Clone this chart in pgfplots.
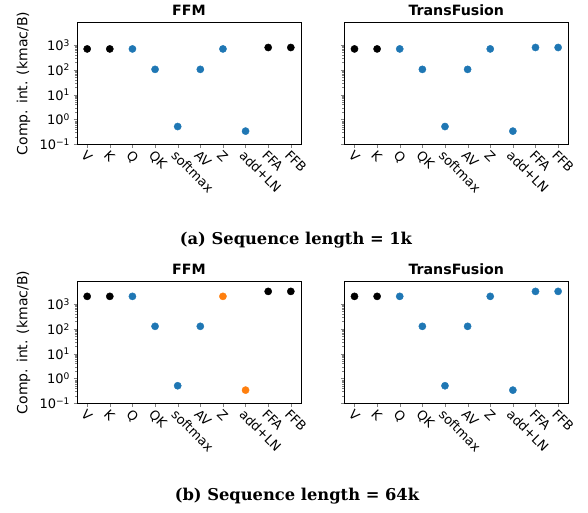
\documentclass[border=0pt]{standalone}
\usepackage{fontspec}
\setsansfont{DejaVu Sans}
\renewcommand\familydefault{\sfdefault}
\newfontfamily\capfont{DejaVu Serif}
\usepackage{pgfplots}
\pgfplotsset{compat=1.18}
\definecolor{tabblue}{RGB}{31,119,180}
\definecolor{taborange}{RGB}{255,127,14}
\newcommand\tickfont{\fontsize{13}{13}\selectfont}
\newcommand\labelfont{\fontsize{14}{14}\selectfont}
\newcommand\titlefont{\fontsize{14.2}{14.2}\selectfont\bfseries}
\newcommand\capsize{\capfont\bfseries\fontsize{16.3}{16.3}\selectfont}

\begin{document}
\begin{tikzpicture}
\useasboundingbox (0pt,0pt) rectangle (588pt,513pt);

% (a) 1k, FFM
\begin{axis}[ymode=log, scale only axis, width=224pt, height=121.6pt,
    at={(77pt,368.7pt)}, anchor=south west,
    xmin=-0.45, xmax=9.45, ymin=0.1, ymax=8000,
    xtick={0,...,9}, xticklabels={V,K,Q,QK,softmax,AV,Z,add+LN,FFA,FFB},
    xticklabel style={rotate=-45, anchor=north west, inner sep=1pt, font=\tickfont},
    ytick={0.1,1,10,100,1000},
    yticklabels={10\textsuperscript{−1},10\textsuperscript{0},10\textsuperscript{1},10\textsuperscript{2},10\textsuperscript{3}},
    yticklabel style={font=\tickfont},
    xtick pos=bottom, ytick pos=left, tick align=outside,
    major tick length=3.5pt, minor tick length=2pt,
    title={FFM}, title style={at={(0.5,1)}, anchor=base, yshift=1pt, font=\titlefont},
    ylabel={Comp. int. (kmac/B)},
    ylabel style={at={(axis description cs:-0.239,0.5)}, anchor=center, font=\labelfont},
]
\addplot[only marks, mark=*, mark size=3.6pt, black] coordinates {(0,700)(1,700)(8,800)(9,800)};
\addplot[only marks, mark=*, mark size=3.6pt, tabblue] coordinates {(2,700)(3,105)(4,0.52)(5,105)(6,700)(7,0.34)};
\end{axis}

% (a) 1k, TransFusion
\begin{axis}[ymode=log, scale only axis, width=224pt, height=121.6pt,
    at={(344.3pt,368.7pt)}, anchor=south west,
    xmin=-0.45, xmax=9.45, ymin=0.1, ymax=8000,
    xtick={0,...,9}, xticklabels={V,K,Q,QK,softmax,AV,Z,add+LN,FFA,FFB},
    xticklabel style={rotate=-45, anchor=north west, inner sep=1pt, font=\tickfont},
    ytick={0.1,1,10,100,1000}, yticklabels={},
    xtick pos=bottom, ytick pos=left, tick align=outside,
    major tick length=3.5pt, minor tick length=2pt,
    title={TransFusion}, title style={at={(0.5,1)}, anchor=base, yshift=1pt, font=\titlefont},
]
\addplot[only marks, mark=*, mark size=3.6pt, black] coordinates {(0,700)(1,700)};
\addplot[only marks, mark=*, mark size=3.6pt, tabblue] coordinates {(2,700)(3,105)(4,0.52)(5,105)(6,700)(7,0.34)(8,800)(9,800)};
\end{axis}

% (b) 64k, FFM
\begin{axis}[ymode=log, scale only axis, width=224pt, height=121.6pt,
    at={(77pt,109.7pt)}, anchor=south west,
    xmin=-0.45, xmax=9.45, ymin=0.1, ymax=8000,
    xtick={0,...,9}, xticklabels={V,K,Q,QK,softmax,AV,Z,add+LN,FFA,FFB},
    xticklabel style={rotate=-45, anchor=north west, inner sep=1pt, font=\tickfont},
    ytick={0.1,1,10,100,1000},
    yticklabels={10\textsuperscript{−1},10\textsuperscript{0},10\textsuperscript{1},10\textsuperscript{2},10\textsuperscript{3}},
    yticklabel style={font=\tickfont},
    xtick pos=bottom, ytick pos=left, tick align=outside,
    major tick length=3.5pt, minor tick length=2pt,
    title={FFM}, title style={at={(0.5,1)}, anchor=base, yshift=1pt, font=\titlefont},
    ylabel={Comp. int. (kmac/B)},
    ylabel style={at={(axis description cs:-0.239,0.5)}, anchor=center, font=\labelfont},
]
\addplot[only marks, mark=*, mark size=3.6pt, black] coordinates {(0,2050)(1,2050)(8,3250)(9,3250)};
\addplot[only marks, mark=*, mark size=3.6pt, tabblue] coordinates {(2,2050)(3,127)(4,0.51)(5,127)};
\addplot[only marks, mark=*, mark size=3.6pt, taborange] coordinates {(6,2050)(7,0.34)};
\end{axis}

% (b) 64k, TransFusion
\begin{axis}[ymode=log, scale only axis, width=224pt, height=121.6pt,
    at={(344.3pt,109.7pt)}, anchor=south west,
    xmin=-0.45, xmax=9.45, ymin=0.1, ymax=8000,
    xtick={0,...,9}, xticklabels={V,K,Q,QK,softmax,AV,Z,add+LN,FFA,FFB},
    xticklabel style={rotate=-45, anchor=north west, inner sep=1pt, font=\tickfont},
    ytick={0.1,1,10,100,1000}, yticklabels={},
    xtick pos=bottom, ytick pos=left, tick align=outside,
    major tick length=3.5pt, minor tick length=2pt,
    title={TransFusion}, title style={at={(0.5,1)}, anchor=base, yshift=1pt, font=\titlefont},
]
\addplot[only marks, mark=*, mark size=3.6pt, black] coordinates {(0,2050)(1,2050)};
\addplot[only marks, mark=*, mark size=3.6pt, tabblue] coordinates {(2,2050)(3,127)(4,0.51)(5,127)(6,2050)(7,0.34)(8,3250)(9,3250)};
\end{axis}

\node[font=\capsize] at (296pt,273pt) {(a) Sequence length = 1k};
\node[font=\capsize] at (297pt,17pt) {(b) Sequence length = 64k};
\end{tikzpicture}
\end{document}
